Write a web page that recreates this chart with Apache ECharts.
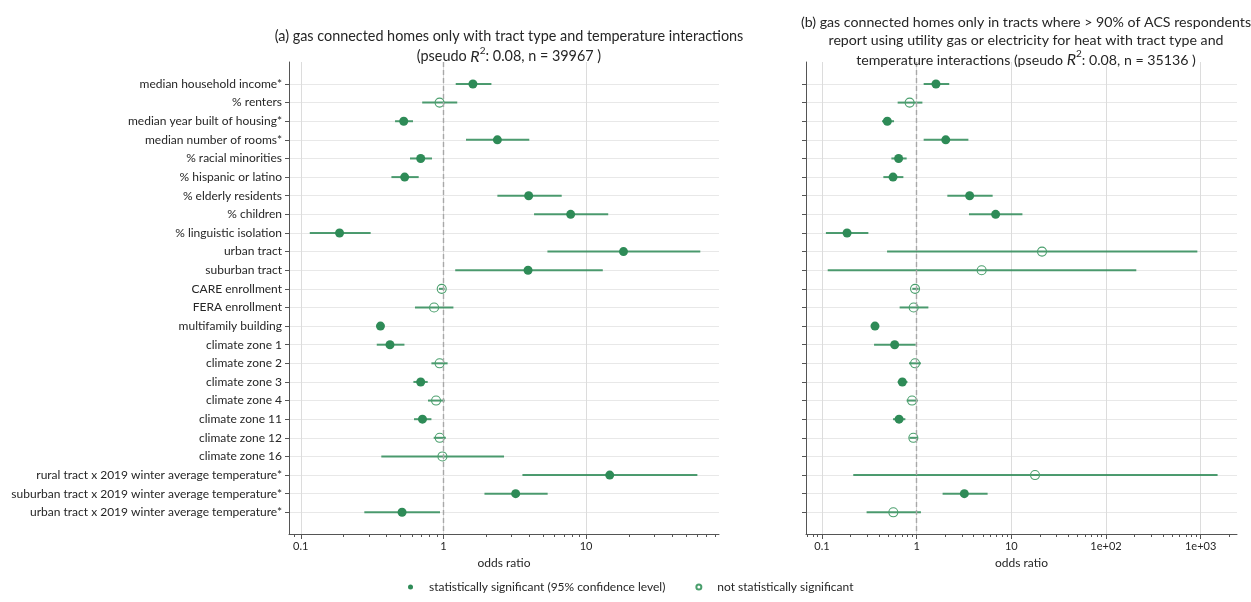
<!DOCTYPE html>
<html>
<head>
<meta charset="utf-8">
<script src="https://cdn.jsdelivr.net/npm/echarts@6/dist/echarts.min.js"></script>
<style>
  html, body { margin: 0; padding: 0; background: #fff; }
  #chart { width: 1251px; height: 602px; }
</style>
</head>
<body>
<div id="chart"></div>
<script>
// Logistic regression odds ratios with 95% confidence intervals
const categories = [
  'median household income*', '% renters', 'median year built of housing*',
  'median number of rooms*', '% racial minorities', '% hispanic or latino',
  '% elderly residents', '% children', '% linguistic isolation', 'urban tract',
  'suburban tract', 'CARE enrollment', 'FERA enrollment', 'multifamily building',
  'climate zone 1', 'climate zone 2', 'climate zone 3', 'climate zone 4',
  'climate zone 11', 'climate zone 12', 'climate zone 16',
  'rural tract x 2019 winter average temperature*',
  'suburban tract x 2019 winter average temperature*',
  'urban tract x 2019 winter average temperature*'
];

// Model (a): all gas connected homes
const aOdds = [1.61, 0.94, 0.527, 2.39, 0.693, 0.535, 3.96, 7.8, 0.187, 18.3, 3.92, 0.973, 0.86, 0.362, 0.422, 0.94, 0.693, 0.888, 0.713, 0.942, 0.984, 14.65, 3.21, 0.513];
const aLow  = [1.22, 0.71, 0.458, 1.44, 0.583, 0.432, 2.39, 4.32, 0.1156, 5.36, 1.21, 0.93, 0.632, 0.35, 0.341, 0.824, 0.616, 0.78, 0.622, 0.855, 0.367, 3.58, 1.94, 0.279];
const aHigh = [2.17, 1.25, 0.612, 4.0, 0.832, 0.671, 6.75, 14.3, 0.309, 63.2, 13.1, 1.02, 1.175, 0.375, 0.533, 1.07, 0.776, 1.02, 0.824, 1.04, 2.66, 60.3, 5.38, 0.947];
const aSig  = [1, 0, 1, 1, 1, 1, 1, 1, 1, 1, 1, 0, 0, 1, 1, 0, 1, 0, 1, 0, 0, 1, 1, 1];

// Model (b): tracts where > 90% heat with utility gas or electricity
const bOdds = [1.60, 0.843, 0.49, 2.03, 0.645, 0.563, 3.63, 6.83, 0.184, 21.1, 4.86, 0.962, 0.93, 0.363, 0.586, 0.962, 0.706, 0.894, 0.652, 0.923, null, 17.8, 3.19, 0.567];
const bLow  = [1.186, 0.63, 0.431, 1.186, 0.541, 0.445, 2.11, 3.57, 0.110, 0.487, 0.115, 0.90, 0.661, 0.34, 0.355, 0.83, 0.63, 0.784, 0.563, 0.84, null, 0.214, 1.88, 0.296];
const bHigh = [2.21, 1.15, 0.577, 3.52, 0.784, 0.724, 6.35, 13.1, 0.309, 923, 209, 1.05, 1.33, 0.39, 0.977, 1.11, 0.80, 1.03, 0.76, 1.03, null, 1510, 5.62, 1.11];
const bSig  = [1, 0, 1, 1, 1, 1, 1, 1, 1, 0, 0, 0, 0, 1, 1, 0, 1, 0, 1, 0, null, 0, 1, 0];

const titleA = '(a) gas connected homes only with tract type and temperature interactions\n(pseudo {i|R}{s|2}: 0.08, n = 39967 )';
const titleB = '(b) gas connected homes only in tracts where > 90% of ACS respondents\nreport using utility gas or electricity for heat with tract type and\ntemperature interactions (pseudo {i|R}{s|2}: 0.08, n = 35136 )';

const SIG_NAME = 'statistically significant (95% confidence level)';
const NS_NAME = 'not statistically significant';

const majorA = [0.1, 1, 10];
const majorB = [0.1, 1, 10, 100, 1000];

const FONT = 'Lato';
const GREEN = '#2e8b57';
const TEXT = '#262626';

// minor log ticks (2..9 x each decade) that fall inside [lo, hi]
function minorTicks(lo, hi) {
  const out = [];
  for (let e = -2; e <= 4; e++) {
    for (let m = 2; m <= 9; m++) {
      const v = m * Math.pow(10, e);
      if (v >= lo && v <= hi) out.push(+v.toPrecision(3));
    }
  }
  return out;
}

function fmtTick(v) {
  if (v >= 100) return '1e+' + String(Math.round(Math.log10(v))).padStart(2, '0');
  return String(+v.toPrecision(3));
}

const rows = categories.map((_, i) => i);
const Y_MIN = -1.18, Y_MAX = 24.165;
const X_RANGE = [[0.0827, 85.5], [0.0678, 2421]];

function yAxis(grid, showLabels) {
  return {
    type: 'value', gridIndex: grid, inverse: true, min: Y_MIN, max: Y_MAX,
    axisLine: { show: true, onZero: false, lineStyle: { color: '#555', width: 1 } },
    axisTick: { show: true, length: 4, customValues: rows, lineStyle: { color: '#555' } },
    axisLabel: {
      show: showLabels, customValues: rows, margin: 7,
      fontFamily: FONT, fontSize: 12, color: TEXT,
      formatter: v => categories[Math.round(v)] || ''
    },
    splitLine: { show: true, lineStyle: { color: '#e8e8e8', width: 1 } }
  };
}

function xAxes(grid, range, majors) {
  return [{
    type: 'log', logBase: 10, gridIndex: grid, min: range[0], max: range[1],
    position: 'bottom',
    name: 'odds ratio', nameLocation: 'middle', nameGap: 21,
    nameTextStyle: { fontFamily: FONT, fontSize: 12, color: TEXT },
    axisLine: { show: true, onZero: false, lineStyle: { color: '#555', width: 1 } },
    axisTick: { show: true, length: 5, customValues: majors, lineStyle: { color: '#555' } },
    axisLabel: {
      customValues: majors, margin: 7, fontFamily: FONT, fontSize: 11, color: TEXT,
      formatter: fmtTick
    },
    splitLine: { show: true, lineStyle: { color: '#dcdcdc', width: 1 } }
  }, {
    type: 'log', logBase: 10, gridIndex: grid, min: range[0], max: range[1],
    position: 'bottom',
    axisLine: { show: false, onZero: false },
    axisTick: { show: true, length: 3, customValues: minorTicks(range[0], range[1]), lineStyle: { color: '#555' } },
    axisLabel: { show: false },
    splitLine: { show: false }
  }];
}

function panelSeries(axisIdx, odds, low, high, sig) {
  const ci = [], sigPts = [], nsPts = [];
  odds.forEach((v, i) => {
    if (v == null) return;
    ci.push([low[i], high[i], i]);
    (sig[i] ? sigPts : nsPts).push([v, i]);
  });
  return [{
    type: 'custom', xAxisIndex: axisIdx, yAxisIndex: axisIdx / 2, z: 2,
    data: ci, encode: { x: [0, 1], y: 2 }, silent: true,
    renderItem: (params, api) => {
      const a = api.coord([api.value(0), api.value(2)]);
      const b = api.coord([api.value(1), api.value(2)]);
      return {
        type: 'line',
        shape: { x1: a[0], y1: a[1], x2: b[0], y2: b[1] },
        style: { stroke: GREEN, lineWidth: 2, opacity: 0.85 }
      };
    },
    markLine: {
      silent: true, symbol: 'none', label: { show: false },
      lineStyle: { type: [5, 3], color: '#a8a8a8', width: 1.4 },
      data: [{ xAxis: 1 }]
    }
  }, {
    type: 'scatter', name: SIG_NAME, xAxisIndex: axisIdx, yAxisIndex: axisIdx / 2, z: 3,
    data: sigPts, symbol: 'circle', symbolSize: 9,
    itemStyle: { color: GREEN, opacity: 1 }
  }, {
    type: 'scatter', name: NS_NAME, xAxisIndex: axisIdx, yAxisIndex: axisIdx / 2, z: 3,
    data: nsPts, symbol: 'circle', symbolSize: 9,
    itemStyle: { color: 'rgba(0,0,0,0)', borderColor: '#4a9f6d', borderWidth: 1.1, opacity: 1 }
  }];
}

const titleRich = {
  i: { fontFamily: FONT, fontStyle: 'italic', fontSize: 16, color: TEXT },
  s: { fontFamily: FONT, fontSize: 10, color: TEXT, verticalAlign: 'top', lineHeight: 22 }
};

const chart = echarts.init(document.getElementById('chart'), null, { renderer: 'canvas' });
chart.setOption({
  animation: false,
  backgroundColor: '#fff',
  textStyle: { fontFamily: FONT },
  title: [{
    text: titleA, left: 504, top: 22, textAlign: 'center',
    textStyle: { fontFamily: FONT, fontSize: 14.4, fontWeight: 'normal', color: TEXT, lineHeight: 18.5, rich: titleRich }
  }, {
    text: titleB, left: 1021, top: 8, textAlign: 'center',
    textStyle: { fontFamily: FONT, fontSize: 14.2, fontWeight: 'normal', color: TEXT, lineHeight: 18, rich: titleRich }
  }],
  legend: {
    top: 576, left: 403, itemGap: 30, itemWidth: 5, itemHeight: 5,
    icon: 'circle', selectedMode: false,
    textStyle: { fontFamily: FONT, fontSize: 12, color: TEXT, padding: [0, 0, 0, 11] },
    data: [SIG_NAME, NS_NAME]
  },
  grid: [
    { left: 289, top: 62, width: 430, height: 472 },
    { left: 806, top: 62, width: 431, height: 472 }
  ],
  xAxis: [...xAxes(0, X_RANGE[0], majorA), ...xAxes(1, X_RANGE[1], majorB)],
  yAxis: [yAxis(0, true), yAxis(1, false)],
  series: [
    ...panelSeries(0, aOdds, aLow, aHigh, aSig),
    ...panelSeries(2, bOdds, bLow, bHigh, bSig)
  ]
});
</script>
</body>
</html>
